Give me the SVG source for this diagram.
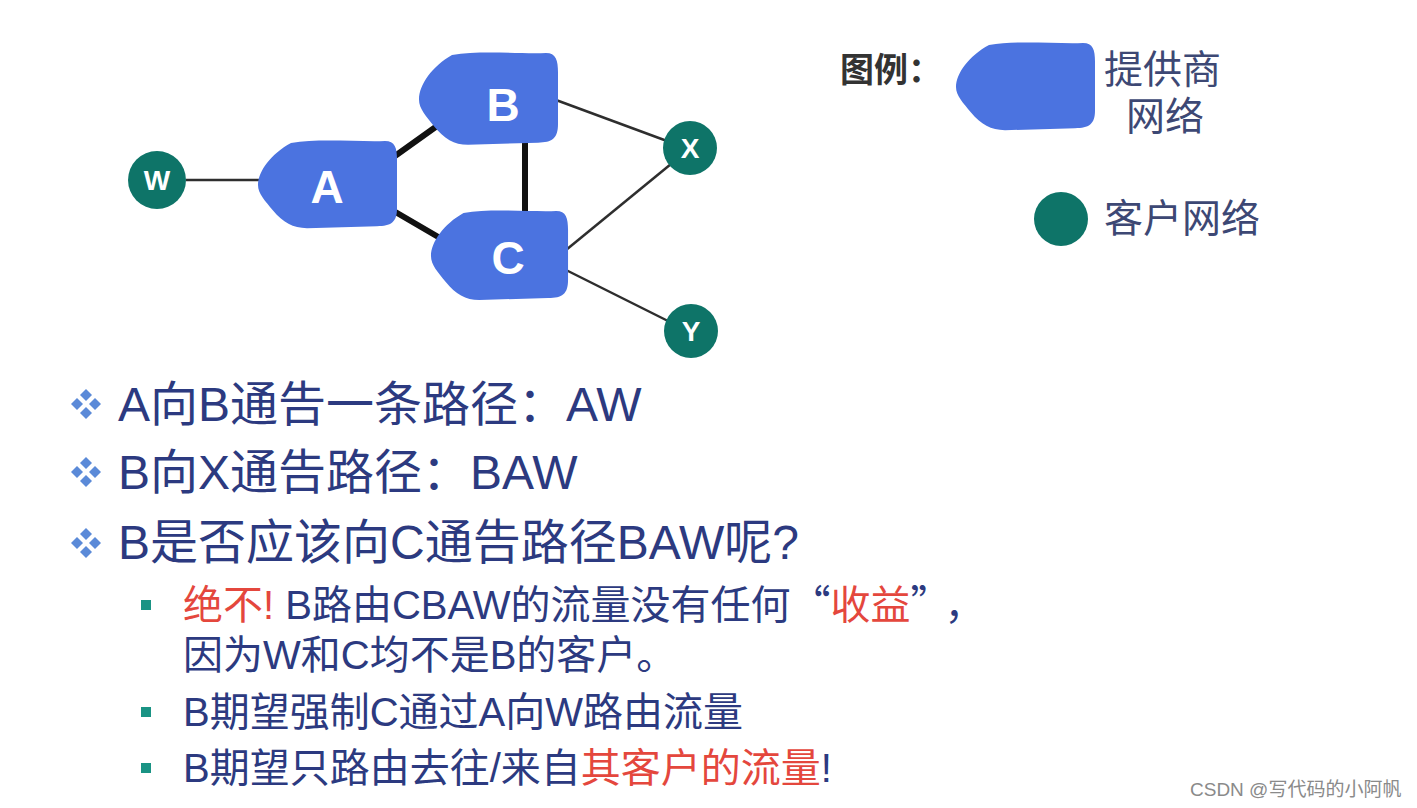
<svg xmlns="http://www.w3.org/2000/svg" width="1417" height="808" viewBox="0 0 1417 808">
<style>
.blob{fill:#4b73e0}
.cust{fill:#0e7468}
.big{font-family:"Liberation Sans","Noto Sans CJK SC",sans-serif;font-weight:bold;font-size:46px;fill:#ffffff;text-anchor:middle}
.small{font-family:"Liberation Sans","Noto Sans CJK SC",sans-serif;font-weight:bold;font-size:28px;fill:#ffffff;text-anchor:middle}
.thick{stroke:#111111;stroke-width:6;stroke-linecap:round}
.thin{stroke:#2e2e2e;stroke-width:2.5}
.leg{font-family:"Liberation Sans","Noto Sans CJK SC",sans-serif;font-size:39px;fill:#3d4874}
.main{font-family:"Liberation Sans","Noto Sans CJK SC",sans-serif;font-size:48px;fill:#2c3a80}
.sub{font-family:"Liberation Sans","Noto Sans CJK SC",sans-serif;font-size:40px;fill:#2c3a80}
.cjk{font-family:"Noto Sans CJK SC",sans-serif}
.red{fill:#e4473d}
.dia{fill:#5b8ad8}
.sq{fill:#1a9384}
</style>
<defs>
<path id="blobshape" d="M 34,3 C 62,-2 100,2 128,1 C 138,1 140,8 140,20 L 140,70 C 140,84 134,88 120,88 L 50,90 C 36,90 26,84 16,72 C 8,62 1,55 1,46 C 1,32 14,14 34,3 Z"/>
<g id="diamond">
<path d="M0,-15 L6,-9 L0,-3 L-6,-9 Z"/>
<path d="M0,3 L6,9 L0,15 L-6,9 Z"/>
<path d="M-9,-6 L-3,0 L-9,6 L-15,0 Z"/>
<path d="M9,-6 L15,0 L9,6 L3,0 Z"/>
</g>
</defs>
<rect width="1417" height="808" fill="#ffffff"/>

<g id="connectors">
<line class="thin" x1="186" y1="180" x2="262" y2="180"/>
<line class="thick" x1="388" y1="161" x2="437" y2="126"/>
<line class="thick" x1="392" y1="210" x2="440" y2="238"/>
<line class="thick" x1="525" y1="143" x2="525" y2="214"/>
<line class="thin" x1="556" y1="100" x2="667" y2="141"/>
<line class="thin" x1="566" y1="250" x2="671" y2="164"/>
<line class="thin" x1="566" y1="270" x2="668" y2="321"/>
</g>

<g id="node-W">
<circle class="cust" cx="157" cy="180" r="29"/>
<text class="small" x="157" y="190">W</text>
</g>
<g id="node-A">
<use href="#blobshape" class="blob" transform="translate(257,140) scale(1,0.98)"/>
<text class="big" x="327" y="203">A</text>
</g>
<g id="node-B">
<use href="#blobshape" class="blob" transform="translate(418,52) scale(1,1.03)"/>
<text class="big" x="503" y="121">B</text>
</g>
<g id="node-C">
<use href="#blobshape" class="blob" transform="translate(430,210) scale(0.986,1)"/>
<text class="big" x="508" y="274">C</text>
</g>
<g id="node-X">
<circle class="cust" cx="690" cy="148" r="27"/>
<text class="small" x="690" y="158">X</text>
</g>
<g id="node-Y">
<circle class="cust" cx="691" cy="331" r="27"/>
<text class="small" x="691" y="341">Y</text>
</g>

<g id="legend">
<text x="840" y="82" font-family="'Noto Sans CJK SC',sans-serif" font-weight="bold" font-size="34" fill="#333333">图例：</text>
<use href="#blobshape" class="blob" transform="translate(955,42) scale(1,0.98)"/>
<text class="leg" x="1104" y="83">提供商</text>
<text class="leg" x="1126" y="130">网络</text>
<circle class="cust" cx="1061" cy="219" r="27"/>
<text class="leg" x="1104" y="232">客户网络</text>
</g>

<g id="bullets">
<use href="#diamond" class="dia" transform="translate(86,404)"/>
<text class="main" x="118" y="421">A向B通告一条路径：AW</text>
<use href="#diamond" class="dia" transform="translate(86,472)"/>
<text class="main" x="118" y="489">B向X通告路径：BAW</text>
<use href="#diamond" class="dia" transform="translate(86,543)"/>
<text class="main" x="118" y="559">B是否应该向C通告路径BAW呢?</text>

<rect class="sq" x="141" y="600" width="10" height="10"/>
<text class="sub" x="183" y="619"><tspan class="red">绝不!</tspan> B路由CBAW的流量没有任何<tspan class="cjk">“</tspan><tspan class="red">收益</tspan><tspan class="cjk">”</tspan><tspan dx="14">，</tspan></text>
<text class="sub" x="183" y="669">因为W和C均不是B的客户。</text>
<rect class="sq" x="141" y="707" width="10" height="10"/>
<text class="sub" x="183" y="726">B期望强制C通过A向W路由流量</text>
<rect class="sq" x="141" y="763" width="10" height="10"/>
<text class="sub" x="183" y="782">B期望只路由去往/来自<tspan class="red">其客户的流量</tspan>!</text>
</g>

<text x="1190" y="796" font-family="'Liberation Sans','Noto Sans CJK SC',sans-serif" font-size="19" fill="#8a8a8a">CSDN @写代码的小阿帆</text>
</svg>
